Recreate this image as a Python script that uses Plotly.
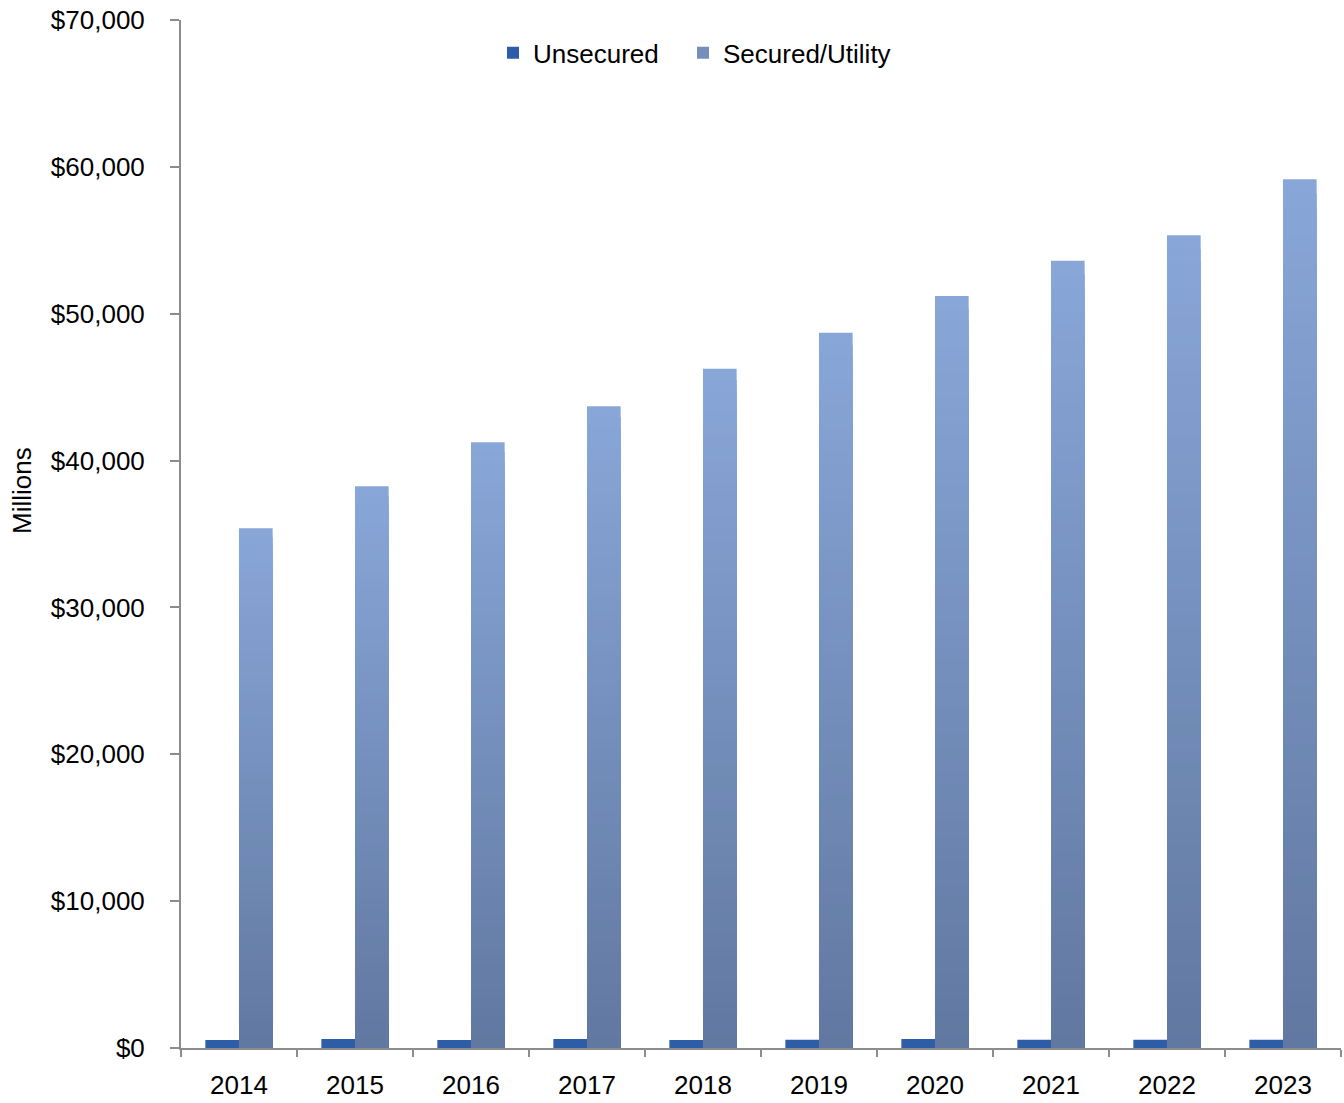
import plotly.graph_objects as go

years = ["2014", "2015", "2016", "2017", "2018", "2019", "2020", "2021", "2022", "2023"]
unsecured = [545, 610, 550, 610, 550, 560, 610, 560, 570, 560]
secured = [35400, 38250, 41250, 43700, 46250, 48700, 51200, 53600, 55350, 59150]

FONT = "Liberation Sans"
TOP = (136, 166, 216)
BOTTOM = (97, 120, 161)
N = 60
W = 0.29

fig = go.Figure()

fig.add_trace(go.Bar(
    x=years, y=unsecured, name="Unsecured",
    marker=dict(color="#2C5DA6", line=dict(width=0)),
    width=W, offset=-W, legend="legend",
))

# Secured bars drawn as overlaid shrinking layers to get a vertical gradient (light top -> dark bottom)
for i in range(N):
    frac = (N - i) / N
    t = i / (N - 1)
    c = tuple(round(TOP[k] + (BOTTOM[k] - TOP[k]) * t) for k in range(3))
    fig.add_trace(go.Bar(
        x=years, y=[v * frac for v in secured],
        name="Secured/Utility",
        marker=dict(color="rgb(%d,%d,%d)" % c, line=dict(width=0)),
        width=W, offset=0,
        showlegend=(i == N // 2), legend="legend2",
        hoverinfo="skip" if i else None,
    ))

leg_common = dict(orientation="h", xanchor="left", y=0.968, yanchor="middle",
                  font=dict(size=26), itemwidth=30, bgcolor="rgba(0,0,0,0)")

fig.update_layout(
    width=1344, height=1103,
    margin=dict(l=181, r=3, t=20, b=55),
    paper_bgcolor="white", plot_bgcolor="white",
    barmode="overlay",
    font=dict(family=FONT, size=26, color="black"),
    legend=dict(x=(493 - 181) / 1160, **leg_common),
    legend2=dict(x=(683 - 181) / 1160, **leg_common),
    showlegend=True,
)

fig.update_xaxes(
    type="category", showline=True, linecolor="#8C8C8C", linewidth=2,
    ticks="outside", ticklen=7, tickcolor="#8C8C8C", tickwidth=2,
    tickson="boundaries", showgrid=False, ticklabelstandoff=13,
    tickfont=dict(size=26), range=[-0.5, 9.5],
)
fig.update_yaxes(
    range=[0, 70000], dtick=10000, tickprefix="$", tickformat=",",
    showline=True, linecolor="#8C8C8C", linewidth=2,
    ticks="outside", ticklen=9, tickcolor="#8C8C8C", tickwidth=2,
    showgrid=False, zeroline=False, ticklabelstandoff=20,
    tickfont=dict(size=26),
)

fig.add_annotation(
    text="Millions", textangle=-90, xref="paper", yref="paper",
    x=-181 / 1160 + 22 / 1160, y=(1048 - 491) / 1028,
    xanchor="center", yanchor="middle", showarrow=False,
    font=dict(size=26, family=FONT),
)

fig.write_html("out.html")
